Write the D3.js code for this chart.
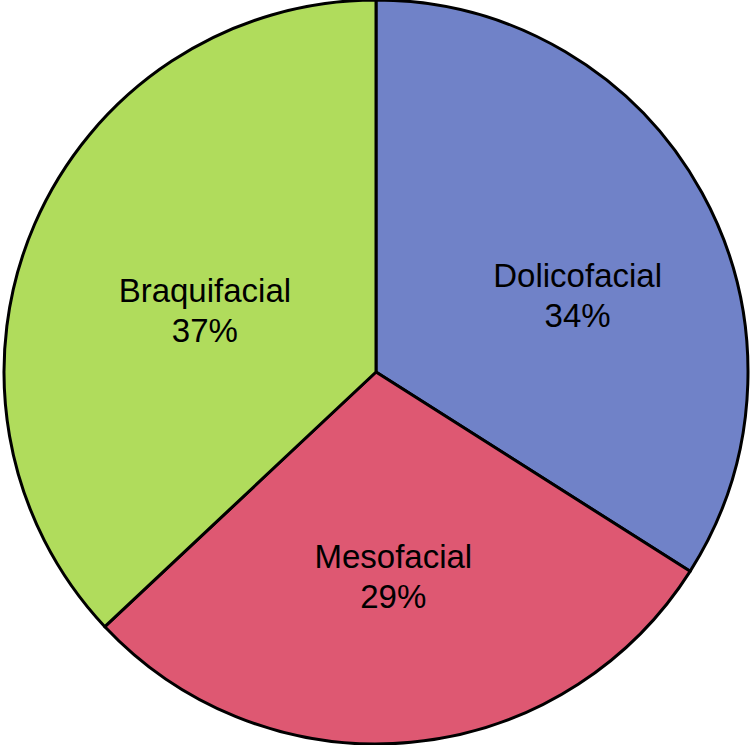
<!DOCTYPE html>
<html>
<head>
<meta charset="utf-8">
<script src="https://cdn.jsdelivr.net/npm/d3@7"></script>
<style>
  html, body { margin: 0; padding: 0; background: #fff; }
  svg { display: block; }
</style>
</head>
<body>
<div id="chart"></div>
<script>
const categories = ['Dolicofacial', 'Mesofacial', 'Braquifacial'];
const values = [34, 29, 37];
const colours = ['#7082c8', '#de5872', '#b0dc5c'];

// label nudges from the centroid (layout only, like the spreadsheet's best-fit placement)
const LABEL_NUDGE = [[22, 22], [-2, 0], [17, 20]];

const WIDTH = 752, HEIGHT = 745;
const CX = 376, CY = 372, R = 372;
const FONT_SIZE = 33, LINE_GAP = 40;

const svg = d3.select('#chart').append('svg')
    .attr('width', WIDTH)
    .attr('height', HEIGHT);

const g = svg.append('g').attr('transform', `translate(${CX},${CY})`);

const pie = d3.pie().sort(null).value(d => d.value);
const slices = pie(categories.map((c, i) => ({ name: c, value: values[i], colour: colours[i], nudge: LABEL_NUDGE[i] })));

const arc = d3.arc().innerRadius(0).outerRadius(R);
const labelArc = d3.arc().innerRadius(205).outerRadius(205);

g.selectAll('path')
    .data(slices)
    .join('path')
    .attr('d', arc)
    .attr('fill', d => d.data.colour)
    .attr('stroke', '#000')
    .attr('stroke-width', 3)
    .attr('stroke-linejoin', 'round');

const labels = g.selectAll('text')
    .data(slices)
    .join('text')
    .attr('transform', d => {
        const c = labelArc.centroid(d);
        return `translate(${c[0] + d.data.nudge[0]},${c[1] + d.data.nudge[1]})`;
    })
    .attr('text-anchor', 'middle')
    .attr('font-family', 'Liberation Sans, Arial, sans-serif')
    .attr('font-size', FONT_SIZE)
    .attr('fill', '#000');

labels.append('tspan')
    .attr('x', 0)
    .attr('y', -8.5)
    .text(d => d.data.name);

labels.append('tspan')
    .attr('x', 0)
    .attr('y', -8.5 + LINE_GAP)
    .text(d => d.data.value + '%');
</script>
</body>
</html>
